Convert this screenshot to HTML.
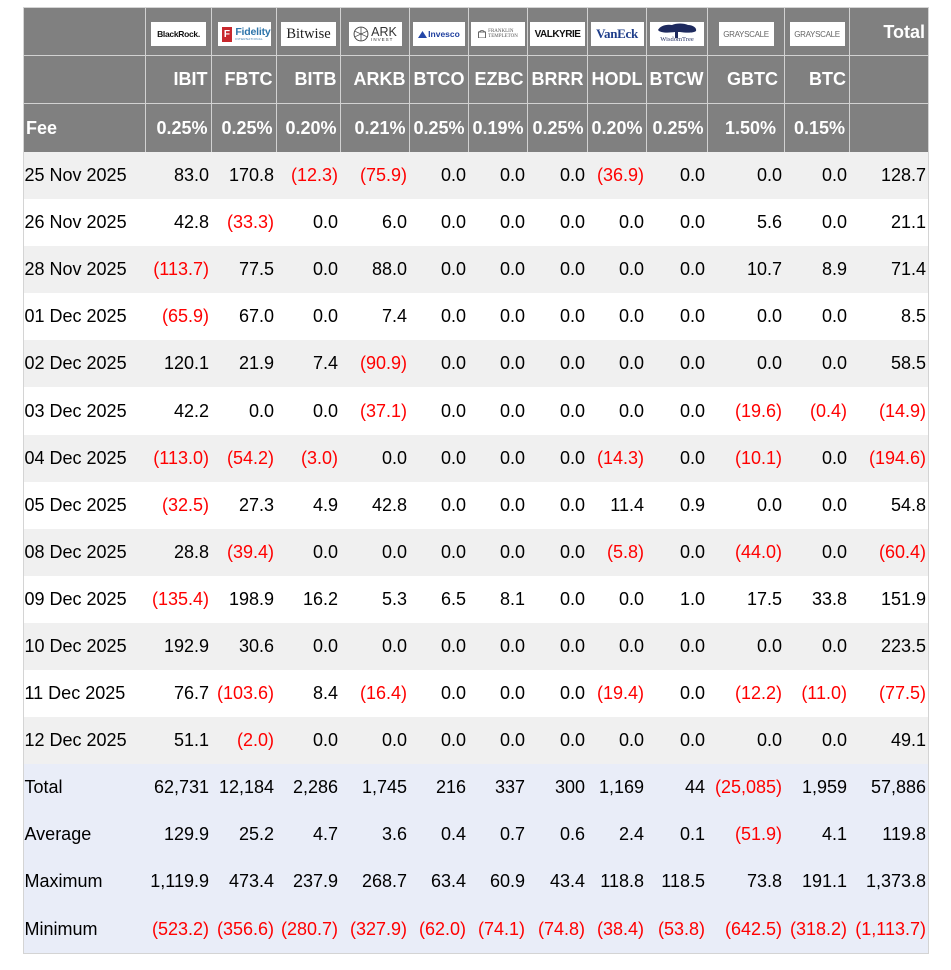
<!DOCTYPE html>
<html><head><meta charset="utf-8">
<style>
html,body{margin:0;padding:0;background:#fff;}
body{width:951px;height:970px;position:relative;overflow:hidden;font-family:"Liberation Sans",Arial,sans-serif;font-size:18px;color:#000;}
#t{position:absolute;left:23px;top:7px;width:905px;}
.r{display:flex;height:47.1px;}
.r>div{box-sizing:border-box;display:flex;align-items:center;justify-content:flex-end;padding-right:2px;white-space:nowrap;flex:none;}
.r>div:nth-child(1){width:122px;justify-content:flex-start;padding-left:1.5px;padding-right:0}
.r>div:nth-child(2){width:66px}
.r>div:nth-child(3){width:65px}
.r>div:nth-child(4){width:64px}
.r>div:nth-child(5){width:69px}
.r>div:nth-child(6){width:59px}
.r>div:nth-child(7){width:59px}
.r>div:nth-child(8){width:60px}
.r>div:nth-child(9){width:59px}
.r>div:nth-child(10){width:61px}
.r>div:nth-child(11){width:77px}
.r>div:nth-child(12){width:65px}
.r>div:nth-child(13){width:79px}
.h{background:#808080;color:#fff;font-weight:bold;}
.h>div{border-left:1px solid #d2d2d2;padding-right:3.5px !important;}
.h>div:nth-child(1){border-left:none;padding-left:3px !important;}
.h1{height:48px;}
.h2{height:48px;}
.h3{height:49px;}
.h2>div,.h3>div{border-top:1px solid #d2d2d2;}
.h1>div.lg{align-items:flex-start;justify-content:center;padding:15px 0 0 0 !important;}
.h1>div.tot{align-items:flex-start;padding-top:15px;padding-right:3px !important;}
.g{background:#f0f0f0;}
.w{background:#fff;}
.s{background:#e9edf8;}
.n{color:#ff0000;}
#bd{position:absolute;left:23px;top:7px;width:906px;height:947px;box-sizing:border-box;border:1px solid #d4d4d4;pointer-events:none;}
.logo{background:#fff;height:24px;display:flex;align-items:center;justify-content:center;overflow:hidden;font-weight:normal;color:#000;box-sizing:border-box;}
</style></head><body>
<div id="t">
<div class="r h h1">
<div></div>
<div class="lg"><div class="logo" style="width:55px"><span style="font-weight:bold;font-size:8.5px;letter-spacing:-0.3px;color:#111">BlackRock.</span></div></div>
<div class="lg"><div class="logo" style="width:53px;justify-content:flex-start;padding-left:4px"><span style="display:inline-block;width:11px;height:15px;background:#c8282d;color:#fff;font-weight:bold;font-size:10px;line-height:15px;text-align:center">F</span><span style="display:flex;flex-direction:column;margin-left:3px;line-height:1"><span style="font-size:10.5px;font-weight:bold;color:#2e75aa;letter-spacing:-0.2px">Fidelity</span><span style="font-size:3px;color:#2e75aa;letter-spacing:0.3px">INTERNATIONAL</span></span></div></div>
<div class="lg"><div class="logo" style="width:55px"><span style="font-family:'Liberation Serif',serif;font-size:14.5px;color:#222">Bitwise</span></div></div>
<div class="lg"><div class="logo" style="width:53px"><svg width="16" height="16" viewBox="0 0 15 15"><circle cx="7.5" cy="7.5" r="6.5" fill="none" stroke="#444" stroke-width="0.9"/><path d="M7.5 1V14M2 10L13 5M2 5L13 10" stroke="#444" stroke-width="0.7"/></svg><span style="display:flex;flex-direction:column;margin-left:2px;line-height:1;color:#333"><span style="font-size:12.5px">ARK</span><span style="font-size:4.5px;letter-spacing:1px">INVEST</span></span></div></div>
<div class="lg"><div class="logo" style="width:52px"><svg width="9" height="7" viewBox="0 0 9 7"><path d="M0 7L4.5 0L9 7Z" fill="#2447a8"/></svg><span style="font-size:8.5px;font-weight:bold;color:#1f3f9e;margin-left:1px">Invesco</span></div></div>
<div class="lg"><div class="logo" style="width:54px"><svg width="8" height="8" viewBox="0 0 8 8"><rect x="0.5" y="2" width="7" height="6" fill="none" stroke="#666"/><path d="M1 2L4 0L7 2" stroke="#666" fill="none"/></svg><span style="display:flex;flex-direction:column;margin-left:2px;line-height:1;font-family:'Liberation Serif',serif;color:#555;font-size:5px"><span>FRANKLIN</span><span>TEMPLETON</span></span></div></div>
<div class="lg"><div class="logo" style="width:55px"><span style="font-weight:bold;font-size:10px;letter-spacing:-0.5px;color:#111">VALKYRIE</span></div></div>
<div class="lg"><div class="logo" style="width:53px"><span style="font-family:'Liberation Serif',serif;font-weight:bold;font-size:13px;color:#1e3d8a;letter-spacing:-0.3px">VanEck</span></div></div>
<div class="lg"><div class="logo" style="width:54px;flex-direction:column;justify-content:flex-start;padding-top:1px"><svg width="42" height="15" viewBox="0 0 42 15"><path d="M2 7C4 3 10 1 16 2C20 0 28 0 32 2C37 2 41 5 40 8C38 10 30 10 24 9L22 9L22 15L19 15L19 9C12 10 4 10 2 7Z" fill="#1e2a5e"/></svg><span style="font-family:'Liberation Serif',serif;font-size:6.5px;color:#1e2a5e;line-height:1;margin-top:-1px">WisdomTree</span></div></div>
<div class="lg"><div class="logo" style="width:55px"><span style="font-size:8px;color:#666;letter-spacing:-0.3px">GRAYSCALE</span></div></div>
<div class="lg"><div class="logo" style="width:55px"><span style="font-size:8px;color:#666;letter-spacing:-0.3px">GRAYSCALE</span></div></div>
<div class="tot">Total</div>
</div>
<div class="r h h2">
<div></div><div>IBIT</div><div>FBTC</div><div>BITB</div><div>ARKB</div><div>BTCO</div><div>EZBC</div><div>BRRR</div><div>HODL</div><div>BTCW</div><div style="padding-right:6px !important">GBTC</div><div style="padding-right:3px !important">BTC</div><div></div>
</div>
<div class="r h h3">
<div>Fee</div><div>0.25%</div><div>0.25%</div><div>0.20%</div><div>0.21%</div><div>0.25%</div><div>0.19%</div><div>0.25%</div><div>0.20%</div><div>0.25%</div><div style="padding-right:8px !important">1.50%</div><div style="padding-right:4px !important">0.15%</div><div></div>
</div>

<div class="r g"><div>25 Nov 2025</div><div>83.0</div><div>170.8</div><div class="n">(12.3)</div><div class="n">(75.9)</div><div>0.0</div><div>0.0</div><div>0.0</div><div class="n">(36.9)</div><div>0.0</div><div>0.0</div><div>0.0</div><div>128.7</div></div>
<div class="r w"><div>26 Nov 2025</div><div>42.8</div><div class="n">(33.3)</div><div>0.0</div><div>6.0</div><div>0.0</div><div>0.0</div><div>0.0</div><div>0.0</div><div>0.0</div><div>5.6</div><div>0.0</div><div>21.1</div></div>
<div class="r g"><div>28 Nov 2025</div><div class="n">(113.7)</div><div>77.5</div><div>0.0</div><div>88.0</div><div>0.0</div><div>0.0</div><div>0.0</div><div>0.0</div><div>0.0</div><div>10.7</div><div>8.9</div><div>71.4</div></div>
<div class="r w"><div>01 Dec 2025</div><div class="n">(65.9)</div><div>67.0</div><div>0.0</div><div>7.4</div><div>0.0</div><div>0.0</div><div>0.0</div><div>0.0</div><div>0.0</div><div>0.0</div><div>0.0</div><div>8.5</div></div>
<div class="r g"><div>02 Dec 2025</div><div>120.1</div><div>21.9</div><div>7.4</div><div class="n">(90.9)</div><div>0.0</div><div>0.0</div><div>0.0</div><div>0.0</div><div>0.0</div><div>0.0</div><div>0.0</div><div>58.5</div></div>
<div class="r w"><div>03 Dec 2025</div><div>42.2</div><div>0.0</div><div>0.0</div><div class="n">(37.1)</div><div>0.0</div><div>0.0</div><div>0.0</div><div>0.0</div><div>0.0</div><div class="n">(19.6)</div><div class="n">(0.4)</div><div class="n">(14.9)</div></div>
<div class="r g"><div>04 Dec 2025</div><div class="n">(113.0)</div><div class="n">(54.2)</div><div class="n">(3.0)</div><div>0.0</div><div>0.0</div><div>0.0</div><div>0.0</div><div class="n">(14.3)</div><div>0.0</div><div class="n">(10.1)</div><div>0.0</div><div class="n">(194.6)</div></div>
<div class="r w"><div>05 Dec 2025</div><div class="n">(32.5)</div><div>27.3</div><div>4.9</div><div>42.8</div><div>0.0</div><div>0.0</div><div>0.0</div><div>11.4</div><div>0.9</div><div>0.0</div><div>0.0</div><div>54.8</div></div>
<div class="r g"><div>08 Dec 2025</div><div>28.8</div><div class="n">(39.4)</div><div>0.0</div><div>0.0</div><div>0.0</div><div>0.0</div><div>0.0</div><div class="n">(5.8)</div><div>0.0</div><div class="n">(44.0)</div><div>0.0</div><div class="n">(60.4)</div></div>
<div class="r w"><div>09 Dec 2025</div><div class="n">(135.4)</div><div>198.9</div><div>16.2</div><div>5.3</div><div>6.5</div><div>8.1</div><div>0.0</div><div>0.0</div><div>1.0</div><div>17.5</div><div>33.8</div><div>151.9</div></div>
<div class="r g"><div>10 Dec 2025</div><div>192.9</div><div>30.6</div><div>0.0</div><div>0.0</div><div>0.0</div><div>0.0</div><div>0.0</div><div>0.0</div><div>0.0</div><div>0.0</div><div>0.0</div><div>223.5</div></div>
<div class="r w"><div>11 Dec 2025</div><div>76.7</div><div class="n">(103.6)</div><div>8.4</div><div class="n">(16.4)</div><div>0.0</div><div>0.0</div><div>0.0</div><div class="n">(19.4)</div><div>0.0</div><div class="n">(12.2)</div><div class="n">(11.0)</div><div class="n">(77.5)</div></div>
<div class="r g"><div>12 Dec 2025</div><div>51.1</div><div class="n">(2.0)</div><div>0.0</div><div>0.0</div><div>0.0</div><div>0.0</div><div>0.0</div><div>0.0</div><div>0.0</div><div>0.0</div><div>0.0</div><div>49.1</div></div>

<div class="r s"><div>Total</div><div>62,731</div><div>12,184</div><div>2,286</div><div>1,745</div><div>216</div><div>337</div><div>300</div><div>1,169</div><div>44</div><div class="n">(25,085)</div><div>1,959</div><div>57,886</div></div>
<div class="r s"><div>Average</div><div>129.9</div><div>25.2</div><div>4.7</div><div>3.6</div><div>0.4</div><div>0.7</div><div>0.6</div><div>2.4</div><div>0.1</div><div class="n">(51.9)</div><div>4.1</div><div>119.8</div></div>
<div class="r s"><div>Maximum</div><div>1,119.9</div><div>473.4</div><div>237.9</div><div>268.7</div><div>63.4</div><div>60.9</div><div>43.4</div><div>118.8</div><div>118.5</div><div>73.8</div><div>191.1</div><div>1,373.8</div></div>
<div class="r s"><div>Minimum</div><div class="n">(523.2)</div><div class="n">(356.6)</div><div class="n">(280.7)</div><div class="n">(327.9)</div><div class="n">(62.0)</div><div class="n">(74.1)</div><div class="n">(74.8)</div><div class="n">(38.4)</div><div class="n">(53.8)</div><div class="n">(642.5)</div><div class="n">(318.2)</div><div class="n">(1,113.7)</div></div>
</div>
<div id="bd"></div>
</body></html>
